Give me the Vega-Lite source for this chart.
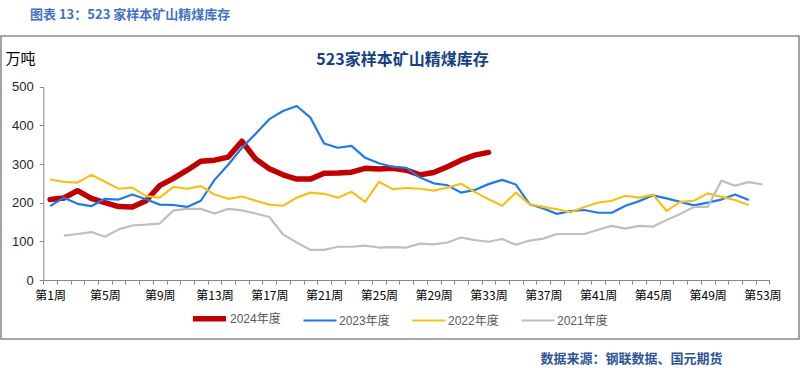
{
  "$schema": "https://vega.github.io/schema/vega-lite/v6.json",
  "width": 798,
  "height": 303,
  "autosize": "none",
  "padding": {"left": 1, "top": 36, "right": 6, "bottom": 29},
  "background": "white",
  "title": {"text": "图表 13：523 家样本矿山精煤库存", "anchor": "start", "frame": "group", "dx": 29, "offset": 14, "font": "Noto Sans CJK SC", "fontSize": 13, "fontWeight": "bold", "color": "#4472C4"},
  "config": {
    "view": {"stroke": "#8c8c8c", "strokeWidth": 1.6},
    "font": "Liberation Sans, Noto Sans CJK SC"
  },
  "datasets": {
    "inv": [
      {"year": "2024年度", "w": 1, "v": 208}, {"year": "2024年度", "w": 2, "v": 212}, {"year": "2024年度", "w": 3, "v": 231}, {"year": "2024年度", "w": 4, "v": 211}, {"year": "2024年度", "w": 5, "v": 200}, {"year": "2024年度", "w": 6, "v": 190}, {"year": "2024年度", "w": 7, "v": 189}, {"year": "2024年度", "w": 8, "v": 205}, {"year": "2024年度", "w": 9, "v": 244}, {"year": "2024年度", "w": 10, "v": 263}, {"year": "2024年度", "w": 11, "v": 284}, {"year": "2024年度", "w": 12, "v": 307}, {"year": "2024年度", "w": 13, "v": 310}, {"year": "2024年度", "w": 14, "v": 318}, {"year": "2024年度", "w": 15, "v": 359}, {"year": "2024年度", "w": 16, "v": 313}, {"year": "2024年度", "w": 17, "v": 288}, {"year": "2024年度", "w": 18, "v": 272}, {"year": "2024年度", "w": 19, "v": 261}, {"year": "2024年度", "w": 20, "v": 261}, {"year": "2024年度", "w": 21, "v": 276}, {"year": "2024年度", "w": 22, "v": 277}, {"year": "2024年度", "w": 23, "v": 279}, {"year": "2024年度", "w": 24, "v": 289}, {"year": "2024年度", "w": 25, "v": 287}, {"year": "2024年度", "w": 26, "v": 289}, {"year": "2024年度", "w": 27, "v": 284}, {"year": "2024年度", "w": 28, "v": 272}, {"year": "2024年度", "w": 29, "v": 278}, {"year": "2024年度", "w": 30, "v": 293}, {"year": "2024年度", "w": 31, "v": 310}, {"year": "2024年度", "w": 32, "v": 323}, {"year": "2024年度", "w": 33, "v": 330},
      {"year": "2023年度", "w": 1, "v": 191}, {"year": "2023年度", "w": 2, "v": 213}, {"year": "2023年度", "w": 3, "v": 197}, {"year": "2023年度", "w": 4, "v": 191}, {"year": "2023年度", "w": 5, "v": 210}, {"year": "2023年度", "w": 6, "v": 208}, {"year": "2023年度", "w": 7, "v": 221}, {"year": "2023年度", "w": 8, "v": 209}, {"year": "2023年度", "w": 9, "v": 195}, {"year": "2023年度", "w": 10, "v": 194}, {"year": "2023年度", "w": 11, "v": 189}, {"year": "2023年度", "w": 12, "v": 205}, {"year": "2023年度", "w": 13, "v": 259}, {"year": "2023年度", "w": 14, "v": 298}, {"year": "2023年度", "w": 15, "v": 342}, {"year": "2023年度", "w": 16, "v": 378}, {"year": "2023年度", "w": 17, "v": 416}, {"year": "2023年度", "w": 18, "v": 437}, {"year": "2023年度", "w": 19, "v": 450}, {"year": "2023年度", "w": 20, "v": 420}, {"year": "2023年度", "w": 21, "v": 353}, {"year": "2023年度", "w": 22, "v": 342}, {"year": "2023年度", "w": 23, "v": 347}, {"year": "2023年度", "w": 24, "v": 316}, {"year": "2023年度", "w": 25, "v": 302}, {"year": "2023年度", "w": 26, "v": 293}, {"year": "2023年度", "w": 27, "v": 290}, {"year": "2023年度", "w": 28, "v": 265}, {"year": "2023年度", "w": 29, "v": 250}, {"year": "2023年度", "w": 30, "v": 245}, {"year": "2023年度", "w": 31, "v": 226}, {"year": "2023年度", "w": 32, "v": 233}, {"year": "2023年度", "w": 33, "v": 248}, {"year": "2023年度", "w": 34, "v": 259}, {"year": "2023年度", "w": 35, "v": 247}, {"year": "2023年度", "w": 36, "v": 196}, {"year": "2023年度", "w": 37, "v": 185}, {"year": "2023年度", "w": 38, "v": 171}, {"year": "2023年度", "w": 39, "v": 178}, {"year": "2023年度", "w": 40, "v": 181}, {"year": "2023年度", "w": 41, "v": 174}, {"year": "2023年度", "w": 42, "v": 174}, {"year": "2023年度", "w": 43, "v": 192}, {"year": "2023年度", "w": 44, "v": 204}, {"year": "2023年度", "w": 45, "v": 219}, {"year": "2023年度", "w": 46, "v": 211}, {"year": "2023年度", "w": 47, "v": 202}, {"year": "2023年度", "w": 48, "v": 193}, {"year": "2023年度", "w": 49, "v": 200}, {"year": "2023年度", "w": 50, "v": 208}, {"year": "2023年度", "w": 51, "v": 221}, {"year": "2023年度", "w": 52, "v": 207},
      {"year": "2022年度", "w": 1, "v": 260}, {"year": "2022年度", "w": 2, "v": 254}, {"year": "2022年度", "w": 3, "v": 252}, {"year": "2022年度", "w": 4, "v": 272}, {"year": "2022年度", "w": 5, "v": 254}, {"year": "2022年度", "w": 6, "v": 236}, {"year": "2022年度", "w": 7, "v": 239}, {"year": "2022年度", "w": 8, "v": 217}, {"year": "2022年度", "w": 9, "v": 213}, {"year": "2022年度", "w": 10, "v": 241}, {"year": "2022年度", "w": 11, "v": 236}, {"year": "2022年度", "w": 12, "v": 243}, {"year": "2022年度", "w": 13, "v": 221}, {"year": "2022年度", "w": 14, "v": 210}, {"year": "2022年度", "w": 15, "v": 216}, {"year": "2022年度", "w": 16, "v": 205}, {"year": "2022年度", "w": 17, "v": 195}, {"year": "2022年度", "w": 18, "v": 192}, {"year": "2022年度", "w": 19, "v": 213}, {"year": "2022年度", "w": 20, "v": 226}, {"year": "2022年度", "w": 21, "v": 223}, {"year": "2022年度", "w": 22, "v": 213}, {"year": "2022年度", "w": 23, "v": 228}, {"year": "2022年度", "w": 24, "v": 202}, {"year": "2022年度", "w": 25, "v": 254}, {"year": "2022年度", "w": 26, "v": 235}, {"year": "2022年度", "w": 27, "v": 238}, {"year": "2022年度", "w": 28, "v": 236}, {"year": "2022年度", "w": 29, "v": 231}, {"year": "2022年度", "w": 30, "v": 239}, {"year": "2022年度", "w": 31, "v": 249}, {"year": "2022年度", "w": 32, "v": 228}, {"year": "2022年度", "w": 33, "v": 209}, {"year": "2022年度", "w": 34, "v": 192}, {"year": "2022年度", "w": 35, "v": 226}, {"year": "2022年度", "w": 36, "v": 196}, {"year": "2022年度", "w": 37, "v": 189}, {"year": "2022年度", "w": 38, "v": 183}, {"year": "2022年度", "w": 39, "v": 175}, {"year": "2022年度", "w": 40, "v": 189}, {"year": "2022年度", "w": 41, "v": 200}, {"year": "2022年度", "w": 42, "v": 205}, {"year": "2022年度", "w": 43, "v": 218}, {"year": "2022年度", "w": 44, "v": 213}, {"year": "2022年度", "w": 45, "v": 221}, {"year": "2022年度", "w": 46, "v": 179}, {"year": "2022年度", "w": 47, "v": 202}, {"year": "2022年度", "w": 48, "v": 205}, {"year": "2022年度", "w": 49, "v": 224}, {"year": "2022年度", "w": 50, "v": 215}, {"year": "2022年度", "w": 51, "v": 207}, {"year": "2022年度", "w": 52, "v": 194},
      {"year": "2021年度", "w": 2, "v": 115}, {"year": "2021年度", "w": 3, "v": 119}, {"year": "2021年度", "w": 4, "v": 124}, {"year": "2021年度", "w": 5, "v": 112}, {"year": "2021年度", "w": 6, "v": 131}, {"year": "2021年度", "w": 7, "v": 141}, {"year": "2021年度", "w": 8, "v": 143}, {"year": "2021年度", "w": 9, "v": 146}, {"year": "2021年度", "w": 10, "v": 180}, {"year": "2021年度", "w": 11, "v": 184}, {"year": "2021年度", "w": 12, "v": 184}, {"year": "2021年度", "w": 13, "v": 172}, {"year": "2021年度", "w": 14, "v": 184}, {"year": "2021年度", "w": 15, "v": 180}, {"year": "2021年度", "w": 16, "v": 172}, {"year": "2021年度", "w": 17, "v": 163}, {"year": "2021年度", "w": 18, "v": 118}, {"year": "2021年度", "w": 19, "v": 97}, {"year": "2021年度", "w": 20, "v": 78}, {"year": "2021年度", "w": 21, "v": 78}, {"year": "2021年度", "w": 22, "v": 86}, {"year": "2021年度", "w": 23, "v": 86}, {"year": "2021年度", "w": 24, "v": 89}, {"year": "2021年度", "w": 25, "v": 84}, {"year": "2021年度", "w": 26, "v": 85}, {"year": "2021年度", "w": 27, "v": 84}, {"year": "2021年度", "w": 28, "v": 94}, {"year": "2021年度", "w": 29, "v": 92}, {"year": "2021年度", "w": 30, "v": 97}, {"year": "2021年度", "w": 31, "v": 110}, {"year": "2021年度", "w": 32, "v": 103}, {"year": "2021年度", "w": 33, "v": 99}, {"year": "2021年度", "w": 34, "v": 106}, {"year": "2021年度", "w": 35, "v": 91}, {"year": "2021年度", "w": 36, "v": 102}, {"year": "2021年度", "w": 37, "v": 107}, {"year": "2021年度", "w": 38, "v": 119}, {"year": "2021年度", "w": 39, "v": 119}, {"year": "2021年度", "w": 40, "v": 119}, {"year": "2021年度", "w": 41, "v": 130}, {"year": "2021年度", "w": 42, "v": 140}, {"year": "2021年度", "w": 43, "v": 133}, {"year": "2021年度", "w": 44, "v": 140}, {"year": "2021年度", "w": 45, "v": 138}, {"year": "2021年度", "w": 46, "v": 155}, {"year": "2021年度", "w": 47, "v": 171}, {"year": "2021年度", "w": 48, "v": 189}, {"year": "2021年度", "w": 49, "v": 189}, {"year": "2021年度", "w": 50, "v": 257}, {"year": "2021年度", "w": 51, "v": 244}, {"year": "2021年度", "w": 52, "v": 253}, {"year": "2021年度", "w": 53, "v": 247}
    ]
  },
  "data": {"name": "inv"},
  "encoding": {
    "y": {
      "field": "v", "type": "quantitative",
      "scale": {"domain": [0, 500], "range": [244, 50.7], "nice": false, "zero": false},
      "axis": {
        "title": "万吨", "titleAngle": 0, "titleAlign": "left", "titleBaseline": "middle", "titleX": -38.3, "titleY": 22,
        "titleFont": "Noto Sans CJK SC", "titleFontSize": 15, "titleFontWeight": "normal", "titleColor": "#000000",
        "offset": -42.3, "values": [0, 100, 200, 300, 400, 500], "grid": false,
        "domainColor": "#868686", "tickColor": "#868686", "tickSize": 4,
        "labelFont": "Liberation Sans", "labelFontSize": 13, "labelColor": "#262626", "labelPadding": 6
      }
    },
    "color": {
      "field": "year", "type": "nominal",
      "scale": {"domain": ["2024年度", "2023年度", "2022年度", "2021年度"], "range": ["#C00000", "#1f7ae8", "#f2c21b", "#BFBFBF"]},
      "legend": {"orient": "none", "legendX": 189, "legendY": 263, "direction": "horizontal", "title": null, "symbolType": "stroke", "symbolSize": 1089, "labelFont": "Liberation Sans, Noto Sans CJK SC", "labelFontSize": 12, "labelColor": "#595959", "columnPadding": 18, "labelOffset": 1, "padding": 0, "symbolOffset": 0}
    },
    "strokeWidth": {
      "field": "year", "type": "nominal",
      "scale": {"type": "ordinal", "domain": ["2024年度", "2023年度", "2022年度", "2021年度"], "range": [5.5, 2.2, 2.2, 2.2]},
      "legend": {"orient": "none", "legendX": 189, "legendY": 263, "direction": "horizontal", "title": null, "symbolType": "stroke", "symbolSize": 1089, "labelFont": "Liberation Sans, Noto Sans CJK SC", "labelFontSize": 12, "labelColor": "#595959", "columnPadding": 18, "labelOffset": 1, "padding": 0, "symbolOffset": 0}
    }
  },
  "layer": [
    {
      "transform": [{"filter": "datum.year == '2024年度'"}],
      "mark": {"type": "line", "strokeCap": "round", "strokeJoin": "round"},
      "encoding": {
        "x": {
          "field": "w", "type": "quantitative",
          "scale": {"domain": [0.5, 53.5], "range": [42.3, 768.3], "nice": false, "zero": false},
          "axis": {
            "orient": "bottom", "offset": -59,
            "values": [0.5, 1.5, 2.5, 3.5, 4.5, 5.5, 6.5, 7.5, 8.5, 9.5, 10.5, 11.5, 12.5, 13.5, 14.5, 15.5, 16.5, 17.5, 18.5, 19.5, 20.5, 21.5, 22.5, 23.5, 24.5, 25.5, 26.5, 27.5, 28.5, 29.5, 30.5, 31.5, 32.5, 33.5, 34.5, 35.5, 36.5, 37.5, 38.5, 39.5, 40.5, 41.5, 42.5, 43.5, 44.5, 45.5, 46.5, 47.5, 48.5, 49.5, 50.5, 51.5, 52.5, 53.5],
            "labelExpr": "(datum.value - 0.5) % 4 == 0 ? '第' + (datum.value + 0.5) + '周' : ''",
            "labelOffset": 6.85, "labelFlush": false, "labelOverlap": false, "labelBound": false, "labelPadding": 6,
            "labelFont": "Noto Sans CJK SC", "labelFontSize": 12, "labelColor": "#000000",
            "tickSize": 4, "tickColor": "#868686", "domainColor": "#868686", "grid": false,
            "title": "数据来源：钢联数据、国元期货", "titleX": 539, "titleY": 78, "titleAlign": "left", "titleBaseline": "middle",
            "titleFont": "Noto Sans CJK SC", "titleFontSize": 13, "titleFontWeight": "bold", "titleColor": "#2F5597"
          }
        }
      }
    },
    {
      "transform": [{"filter": "datum.year != '2024年度'"}],
      "mark": {"type": "line", "strokeJoin": "round"},
      "encoding": {
        "x": {
          "field": "w", "type": "quantitative",
          "scale": {"domain": [0.5, 53.5], "range": [42.3, 768.3], "nice": false, "zero": false},
          "axis": {
            "orient": "top", "labels": false, "ticks": false, "domain": false, "grid": false,
            "title": "523家样本矿山精煤库存", "titleX": 401, "titleY": 23, "titleAlign": "center", "titleBaseline": "middle",
            "titleFont": "Noto Sans CJK SC", "titleFontSize": 16, "titleFontWeight": "bold", "titleColor": "#173f86"
          }
        }
      }
    }
  ],
  "resolve": {"axis": {"x": "independent"}}
}
